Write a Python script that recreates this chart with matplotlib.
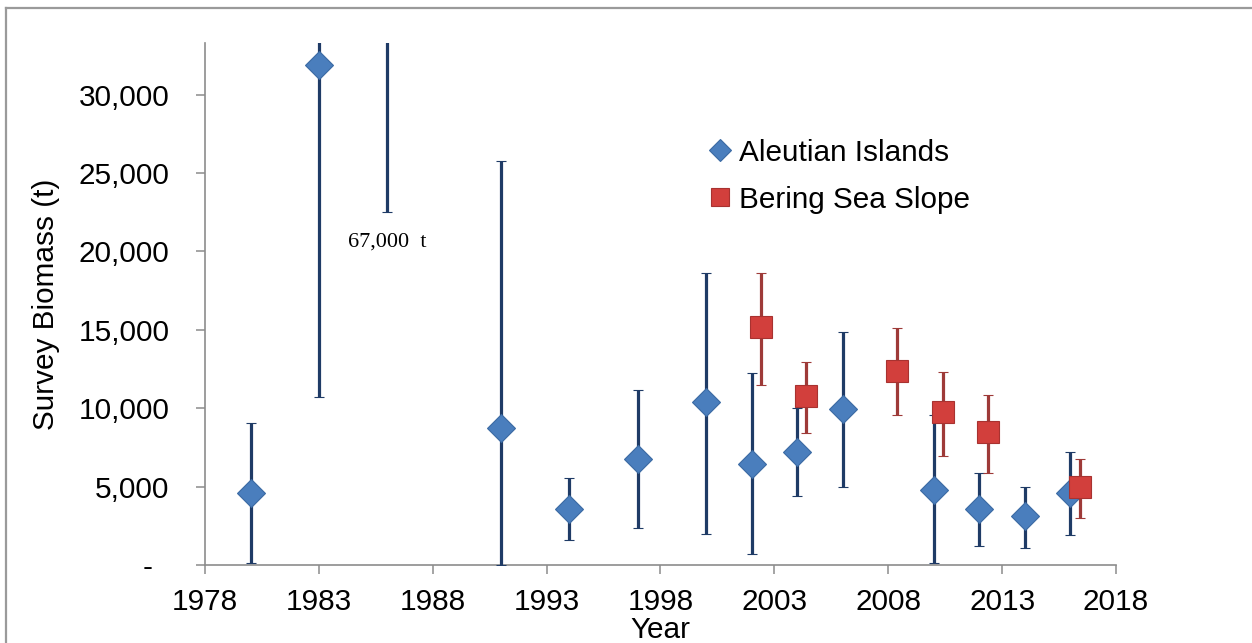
import matplotlib
matplotlib.use("Agg")
import matplotlib.pyplot as plt
from matplotlib.lines import Line2D

# Data
ai_years = [1980, 1983, 1986, 1991, 1994, 1997, 2000, 2002, 2004, 2006, 2010, 2012, 2014, 2016]
ai_biomass = [4600, 31900, 44800, 8750, 3600, 6750, 10400, 6450, 7200, 9950, 4800, 3550, 3100, 4600]
ai_lower = [100, 10700, 22500, 0, 1600, 2350, 2000, 700, 4400, 5000, 100, 1200, 1100, 1900]
ai_upper = [9050, 53000, 67000, 25800, 5550, 11150, 18650, 12250, 10000, 14850, 9550, 5850, 5000, 7200]

bss_years = [2002.4, 2004.4, 2008.4, 2010.4, 2012.4, 2016.4]
bss_biomass = [15200, 10800, 12400, 9750, 8500, 5000]
bss_lower = [11500, 8400, 9550, 6950, 5900, 3000]
bss_upper = [18600, 12950, 15100, 12300, 10850, 6750]

x_ticks = [1978, 1983, 1988, 1993, 1998, 2003, 2008, 2013, 2018]
y_ticks = [0, 5000, 10000, 15000, 20000, 25000, 30000]

plt.rcParams['font.family'] = ['Liberation Sans', 'DejaVu Sans']
fs = 21.4
grey = '#8c8c8c'

fig = plt.figure(figsize=(12.52, 6.43), dpi=100)
ax = fig.add_axes([0.1637, 0.1213, 0.7277, 0.8118])

# Aleutian Islands
ai_err = [[b - lo for b, lo in zip(ai_biomass, ai_lower)],
          [up - b for b, up in zip(ai_biomass, ai_upper)]]
ax.errorbar(ai_years, ai_biomass, yerr=ai_err, fmt='D', color='#1f3b66',
            ecolor='#1f3b66', elinewidth=2.3, capsize=3.6, capthick=2.3,
            markersize=14, markerfacecolor='#4a7ebd', markeredgecolor='#3b6aa3',
            markeredgewidth=0.8, zorder=3)

# Bering Sea Slope
bss_err = [[b - lo for b, lo in zip(bss_biomass, bss_lower)],
           [up - b for b, up in zip(bss_biomass, bss_upper)]]
ax.errorbar(bss_years, bss_biomass, yerr=bss_err, fmt='s', color='#9e3a38',
            ecolor='#9e3a38', elinewidth=2.3, capsize=3.6, capthick=2.3,
            markersize=16, markerfacecolor='#d23f3c', markeredgecolor='#a83230',
            markeredgewidth=0.8, zorder=4)

ax.text(1986, 20600, "67,000  t", family=['Liberation Serif', 'DejaVu Serif'],
        fontsize=16, ha='center', va='center')

ax.set_xlim(1978, 2018)
ax.set_ylim(0, 33300)
ax.set_xticks(x_ticks)
ax.set_yticks(y_ticks)
ax.set_yticklabels(['-  '] + [f"{v:,}" for v in y_ticks[1:]])

for s in ['top', 'right']:
    ax.spines[s].set_visible(False)
for s in ['left', 'bottom']:
    ax.spines[s].set_color(grey)
    ax.spines[s].set_linewidth(1.2)
ax.tick_params(axis='both', direction='out', length=6.5, width=1.1, color=grey,
               labelsize=fs, labelcolor='black')
ax.tick_params(axis='x', pad=10)
ax.tick_params(axis='y', pad=19)

ax.set_ylabel("Survey Biomass (t)", fontsize=fs)
ax.yaxis.set_label_coords(-0.159, 0.5)
ax.set_xlabel("Year", fontsize=fs)
ax.xaxis.set_label_coords(0.5, -0.098)

handles = [
    Line2D([], [], marker='D', linestyle='none', markersize=11,
           markerfacecolor='#4a7ebd', markeredgecolor='#3b6aa3', markeredgewidth=0.8),
    Line2D([], [], marker='s', linestyle='none', markersize=13,
           markerfacecolor='#d23f3c', markeredgecolor='#a83230', markeredgewidth=0.8),
]
ax.legend(handles, ["Aleutian Islands", "Bering Sea Slope"], loc='upper left',
          bbox_to_anchor=(0.552, 0.817), frameon=False, fontsize=fs,
          handlelength=0.8, handletextpad=0.25, labelspacing=0.65,
          borderpad=0, borderaxespad=0)

# outer frame (only top and left edges visible in the crop)
fig.add_artist(Line2D([0.005, 1.0], [0.9876, 0.9876], color='#9a9a9a', lw=1.6))
fig.add_artist(Line2D([0.005, 0.005], [0.0, 0.9876], color='#9a9a9a', lw=1.6))

plt.savefig("out.png", dpi=100)
